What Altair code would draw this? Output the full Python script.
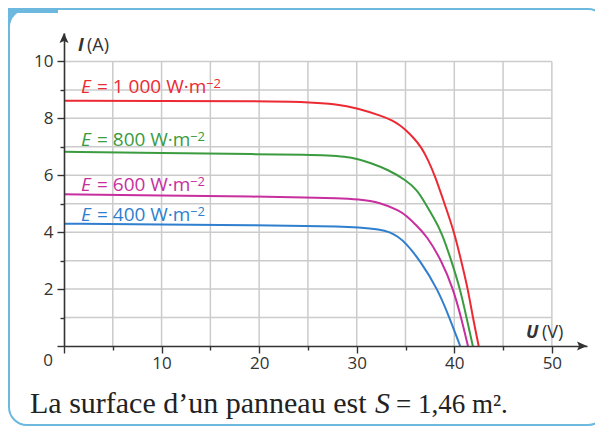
import altair as alt
import pandas as pd

# ---- data -------------------------------------------------------------
U_1000 = [0, 10, 20, 25, 28, 30, 32.7, 33.6, 34.4, 35, 35.8, 36.6, 37.3, 38, 39, 40, 40.7, 41.4, 41.9, 42.5]
I_1000 = [8.62, 8.61, 8.6, 8.58, 8.5, 8.36, 8.07, 7.93, 7.77, 7.6, 7.33, 7.0, 6.55, 6.0, 5.0, 4.0, 3.0, 2.0, 1.0, 0]

U_800 = [0, 10, 20, 25, 27, 28.8, 30.15, 31.35, 33.2, 35.1, 36.2, 37.0, 37.9, 38.7, 39.7, 40.6, 41.25, 41.9]
I_800 = [6.83, 6.78, 6.74, 6.72, 6.70, 6.66, 6.57, 6.44, 6.2, 5.82, 5.48, 5.03, 4.5, 4.0, 3.0, 2.0, 1.0, 0]

U_600 = [0, 10, 20, 25, 28, 30.15, 32.4, 34.4, 35, 36.1, 37.15, 38.7, 39.9, 40.7, 41.4]
I_600 = [5.33, 5.29, 5.25, 5.22, 5.2, 5.16, 5.05, 4.75, 4.6, 4.25, 3.88, 3.0, 2.0, 1.0, 0]

U_400 = [0, 10, 20, 25, 28, 30.15, 32.4, 33.4, 34.2, 35, 36.5, 38.3, 39.5, 40.6]
I_400 = [4.3, 4.27, 4.24, 4.22, 4.2, 4.17, 4.1, 4.0, 3.85, 3.63, 3.0, 2.0, 1.0, 0]

SERIES = ["1000", "800", "600", "400"]
SERIES_U = [U_1000, U_800, U_600, U_400]
SERIES_I = [I_1000, I_800, I_600, I_400]
COLORS = ["#ec2a33", "#3b9b3f", "#c72f9e", "#2f7fce"]
LABEL_VALUES = ["1 000", "800", "600", "400"]
LABEL_I = [8.89, 7.02, 5.45, 4.41]

X_TICKS = [0, 5, 10, 15, 20, 25, 30, 35, 40, 45, 50]
Y_TICKS = [0, 1, 2, 3, 4, 5, 6, 7, 8, 9, 10]
X_GRID = [5, 10, 15, 20, 25, 30, 35, 40, 45, 50]
Y_GRID = [1, 2, 3, 4, 5, 6, 7, 8, 9, 10]
X_MAX = 53.6
Y_MAX = 11.0
CAPTION = ["La surface d\u2019un panneau est", "S", "= 1,46 m\u00b2."]

# ---- build tables -----------------------------------------------------
rows = []
for s, us, is_ in zip(SERIES, SERIES_U, SERIES_I):
    for u, i in zip(us, is_):
        rows.append({"serie": s, "U": u, "I": i})
curves = pd.DataFrame(rows)

FONT = "Open Sans"
TXT = "#333333"
BLUE_FRAME = "#6cb8df"

xs = alt.Scale(domain=[0, X_MAX], nice=False, zero=False)
ys = alt.Scale(domain=[0, Y_MAX], nice=False, zero=False)
xaxis = alt.Axis(
    values=X_TICKS, title=None, grid=False, domain=True, domainColor=TXT,
    domainWidth=1.6, tickColor=TXT, tickWidth=1.4,
    tickSize={"condition": {"test": "datum.value % 10 != 0", "value": 4}, "value": 7},
    labelExpr="datum.value % 10 == 0 && datum.value > 0 ? datum.label : ''",
    labelFont=FONT, labelFontSize=17, labelColor=TXT, labelPadding=2,
    labelFlush=False, zindex=2,
)
yaxis = alt.Axis(
    values=Y_TICKS, title=None, grid=False, domain=True, domainColor=TXT,
    domainWidth=1.6, tickColor=TXT, tickWidth=1.4,
    tickSize={"condition": {"test": "datum.value % 2 != 0", "value": 4}, "value": 7},
    labelExpr="datum.value % 2 == 0 && datum.value > 0 ? datum.label : ''",
    labelFont=FONT, labelFontSize=17, labelColor=TXT, labelPadding=4,
    labelFlush=False, zindex=2,
)
X = alt.X("U:Q", scale=xs, axis=xaxis)
Y = alt.Y("I:Q", scale=ys, axis=yaxis)

one = pd.DataFrame({"k": [0]})

# ---- decoration: frame -----------------------------------------------
corner = alt.Chart(one).mark_rect(color=BLUE_FRAME).encode(
    x=alt.value(-56), x2=alt.value(-34), y=alt.value(-25), y2=alt.value(-3))
frame = alt.Chart(one).mark_rect(
    fill="white", stroke=BLUE_FRAME, strokeWidth=2, cornerRadius=18
).encode(x=alt.value(-55), x2=alt.value(542), y=alt.value(-24), y2=alt.value(392))
tab = alt.Chart(one).mark_rect(color=BLUE_FRAME).encode(
    x=alt.value(-56), x2=alt.value(-6), y=alt.value(-25), y2=alt.value(-20))

# ---- grid -------------------------------------------------------------
vgrid = alt.Chart(pd.DataFrame({"U": X_GRID, "I": 0.0, "I2": 10.0})).mark_rule(
    color="#cbcbcb", strokeWidth=1.5).encode(x=X, y=Y, y2="I2:Q")
hgrid = alt.Chart(pd.DataFrame({"I": Y_GRID, "U": 0.0, "U2": 50.0})).mark_rule(
    color="#cbcbcb", strokeWidth=1.5).encode(y=Y, x=X, x2="U2:Q")

# ---- curves -----------------------------------------------------------
cscale = alt.Scale(domain=SERIES, range=COLORS)
lines = alt.Chart(curves).mark_line(strokeWidth=2, interpolate="basis").encode(
    x=X, y=Y,
    color=alt.Color("serie:N", scale=cscale, legend=None),
    detail="serie:N",
)

# ---- series labels ----------------------------------------------------
labels = pd.DataFrame({"serie": SERIES, "U": 0.0, "I": LABEL_I,
                       "main": ["= " + v + " W\u00b7m" for v in LABEL_VALUES],
                       "E": "E", "sup": "\u22122"})
lab_e = alt.Chart(labels).mark_text(
    font=FONT, fontSize=19, fontStyle="italic", align="left", baseline="alphabetic", dx=17
).encode(x=X, y=Y, text="E:N", color=alt.Color("serie:N", scale=cscale, legend=None))
lab_main = alt.Chart(labels).mark_text(
    font=FONT, fontSize=19, align="left", baseline="alphabetic", dx=33
).encode(x=X, y=Y, text="main:N", color=alt.Color("serie:N", scale=cscale, legend=None))
lab_sup_big = alt.Chart(labels[labels.serie == "1000"]).mark_text(
    font=FONT, fontSize=13, align="left", baseline="alphabetic", dx=142, dy=-5
).encode(x=X, y=Y, text="sup:N", color=alt.Color("serie:N", scale=cscale, legend=None))
lab_sup = alt.Chart(labels[labels.serie != "1000"]).mark_text(
    font=FONT, fontSize=13, align="left", baseline="alphabetic", dx=126, dy=-5
).encode(x=X, y=Y, text="sup:N", color=alt.Color("serie:N", scale=cscale, legend=None))

# ---- axis arrows and titles ------------------------------------------
arrow_y = alt.Chart(pd.DataFrame({"U": [0.0], "I": [Y_MAX]})).mark_point(
    shape="M0,0 L-0.9,2 L0,1.6 L0.9,2 Z", size=100, filled=True, color=TXT, opacity=1
).encode(x=X, y=Y)
arrow_x = alt.Chart(pd.DataFrame({"U": [X_MAX], "I": [0.0]})).mark_point(
    shape="M0,0 L-2,-0.9 L-1.6,0 L-2,0.9 Z", size=100, filled=True, color=TXT, opacity=1
).encode(x=X, y=Y)

ttl = pd.DataFrame({"U": [0.0, 0.0, X_MAX, X_MAX, 0.0],
                    "I": [Y_MAX, Y_MAX, 0.0, 0.0, 0.0],
                    "t": ["I", "(A)", "U", "(V)", "0"]})
t_i = alt.Chart(ttl.iloc[[0]]).mark_text(font=FONT, fontSize=18, fontStyle="italic",
    fontWeight="bold", align="left", baseline="middle", dx=14, dy=13, color=TXT
).encode(x=X, y=Y, text="t:N")
t_a = alt.Chart(ttl.iloc[[1]]).mark_text(font=FONT, fontSize=18, align="left",
    baseline="middle", dx=23, dy=13, color=TXT).encode(x=X, y=Y, text="t:N")
t_u = alt.Chart(ttl.iloc[[2]]).mark_text(font=FONT, fontSize=18, fontStyle="italic",
    fontWeight="bold", align="left", baseline="middle", dx=-61, dy=-13, color=TXT
).encode(x=X, y=Y, text="t:N")
t_v = alt.Chart(ttl.iloc[[3]]).mark_text(font=FONT, fontSize=18, align="left",
    baseline="middle", dx=-45, dy=-13, color=TXT).encode(x=X, y=Y, text="t:N")
t_0 = alt.Chart(ttl.iloc[[4]]).mark_text(font=FONT, fontSize=17, align="center",
    baseline="middle", dx=-16, dy=15, color=TXT).encode(x=X, y=Y, text="t:N")

# ---- caption ----------------------------------------------------------
cap = pd.DataFrame({"t": CAPTION})
cap_a = alt.Chart(cap.iloc[[0]]).mark_text(font="Liberation Serif", fontSize=30,
    align="left", baseline="alphabetic", color="#222222").encode(
    x=alt.value(-34), y=alt.value(380), text="t:N")
cap_s = alt.Chart(cap.iloc[[1]]).mark_text(font="Liberation Serif", fontSize=30,
    fontStyle="italic", align="left", baseline="alphabetic", color="#222222").encode(
    x=alt.value(311), y=alt.value(380), text="t:N")
cap_c = alt.Chart(cap.iloc[[2]]).mark_text(font="Liberation Serif", fontSize=27,
    align="left", baseline="alphabetic", color="#222222").encode(
    x=alt.value(332), y=alt.value(380), text="t:N")

chart = alt.layer(
    corner, frame, tab, vgrid, hgrid, lines,
    lab_e, lab_main, lab_sup_big, lab_sup,
    arrow_y, arrow_x, t_i, t_a, t_u, t_v, t_0,
    cap_a, cap_s, cap_c,
).properties(
    width=523, height=313,
    autosize=alt.AutoSizeParams(type="none"),
    padding={"left": 56, "top": 25, "right": 8, "bottom": 80},
).configure_view(stroke=None).configure(background="white")

chart.save("out.html", embed_options={"renderer": "svg", "actions": False})
